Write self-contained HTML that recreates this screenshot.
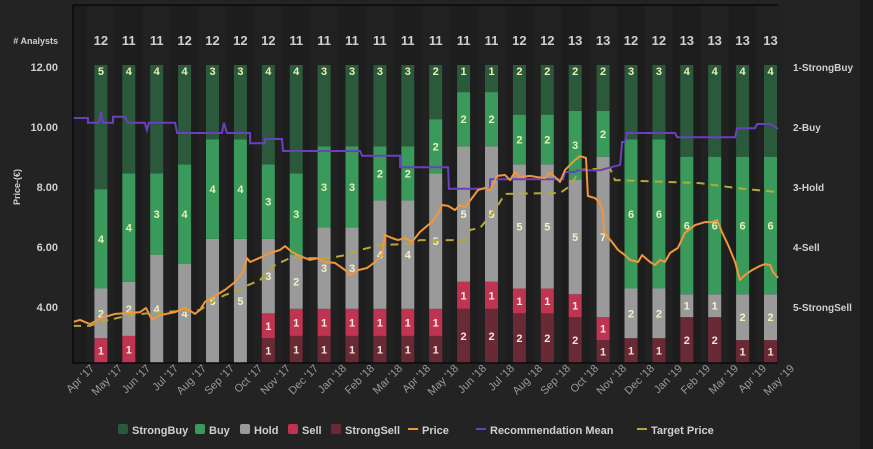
<!DOCTYPE html>
<html><head><meta charset="utf-8">
<style>
html,body{margin:0;padding:0;background:#222;}
svg{display:block;font-family:"Liberation Sans",Arial,sans-serif;}
</style></head>
<body>
<svg id="chart" width="873" height="449" viewBox="0 0 873 449">
<rect x="0" y="0" width="873" height="449" fill="#232323"/>
<rect x="860" y="0" width="13" height="449" fill="#1b1b1b"/>
<g id="bands"></g>
<g id="bars"></g>
<g id="lines"></g>
<g id="axes"></g>
<g id="legend"></g>
</svg>
<script>
const months = ["Apr '17","May '17","Jun '17","Jul '17","Aug '17","Sep '17","Oct '17","Nov '17","Dec '17","Jan '18","Feb '18","Mar '18","Apr '18","May '18","Jun '18","Jul '18","Aug '18","Sep '18","Oct '18","Nov '18","Dec '18","Jan '19","Feb '19","Mar '19","Apr '19","May '19"];
const strongBuy = [5,4,4,4,3,3,4,4,3,3,3,3,2,1,1,2,2,2,2,3,3,4,4,4,4];
const buy       = [4,4,3,4,4,4,3,3,3,3,2,2,2,2,2,2,2,3,2,6,6,6,6,6,6];
const hold      = [2,2,4,4,5,5,3,2,3,3,4,4,5,5,5,5,5,5,7,2,2,1,1,2,2];
const sell      = [1,1,0,0,0,0,1,1,1,1,1,1,1,1,1,1,1,1,1,0,0,0,0,0,0];
const strongSell= [0,0,0,0,0,0,1,1,1,1,1,1,1,2,2,2,2,2,1,1,1,2,2,1,1];
const priceTicks = [4,6,8,10,12];
const ratingLabels = ["1-StrongBuy","2-Buy","3-Hold","4-Sell","5-StrongSell"];
const priceT = [0,.25,.6,.99,1.49,2.02,2.38,2.59,2.8,3.09,3.62,3.97,4.33,4.5,4.68,5.04,5.39,5.74,6.03,6.17,6.28,6.45,6.7,6.99,7.34,7.52,7.77,8.05,8.4,8.69,8.94,9.29,9.65,9.82,10.11,10.43,10.71,10.96,11.06,11.31,11.52,11.77,12.02,12.3,12.59,12.73,12.91,13.09,13.3,13.55,13.72,13.9,14.15,14.36,14.61,14.79,15.04,15.32,15.5,15.67,15.85,16.21,16.45,16.74,16.91,17.13,17.27,17.45,17.62,17.8,17.98,18.19,18.26,18.51,18.69,18.79,18.83,18.97,19.11,19.33,19.57,19.75,20.04,20.18,20.46,20.64,20.82,20.99,21.17,21.45,21.7,22.06,22.41,22.66,22.84,23.01,23.23,23.48,23.65,23.83,24.08,24.36,24.54,24.72,24.82,25];
const priceV = [3.5,3.57,3.43,3.63,3.77,3.8,3.83,3.97,3.57,3.73,3.83,3.97,3.77,3.9,4.17,4.37,4.57,4.83,5.17,5.63,5.5,5.57,5.67,5.8,5.9,6.03,5.83,5.7,5.57,5.63,5.5,5.47,5.23,5.07,5.23,5.3,5.5,5.73,6.4,6.3,6.23,6.3,6.17,6.5,6.73,6.83,7.07,7.4,7.37,7.23,7.4,7.33,7.63,7.9,7.97,7.9,8.37,8.4,8.23,8.5,8.33,8.37,8.33,8.3,8.47,8.3,8.17,8.57,8.73,8.9,9.03,8.97,7.7,7.63,7.47,7.17,6.5,6.33,6.17,5.9,5.73,5.57,5.5,5.73,5.5,5.4,5.57,5.5,5.8,5.97,6.47,6.73,6.83,6.83,6.9,6.5,6.07,5.5,4.9,5.07,5.23,5.37,5.43,5.4,5.17,4.97];
const recT = [0,.53,.53,.92,.99,1.06,1.42,1.42,1.84,1.95,2.55,2.62,2.69,3.62,3.69,5.28,5.35,5.46,6.28,6.28,6.81,6.81,7.41,7.45,10.18,10.25,11.6,11.6,13.3,13.33,14.79,14.79,17.38,17.45,17.8,17.91,18.69,19.4,19.47,19.57,19.64,21.35,21.42,23.48,23.55,24.18,24.26,24.72,25];
const recV = [1.85,1.85,1.93,1.93,1.75,1.93,1.93,1.83,1.83,1.93,1.93,2.05,1.93,1.93,2.1,2.1,1.93,2.1,2.1,2.27,2.27,2.2,2.2,2.4,2.4,2.48,2.48,2.67,2.67,3.03,3.03,2.87,2.87,2.75,2.75,2.72,2.72,2.63,2.25,2.25,2.1,2.1,2.17,2.17,2.02,2.02,1.95,1.95,2.03];
const targetT = [0,.6,.96,2.02,3.09,4.5,5.04,5.39,5.92,6.21,6.63,7.16,7.7,9.11,9.65,10.18,10.89,11.95,12.3,13.3,13.9,14.08,14.43,14.96,15.32,17.27,17.62,17.98,19.04,19.22,22.23,23.48,25];
const targetV = [3.37,3.37,3.5,3.73,3.83,3.9,4.23,4.4,4.57,4.73,4.9,5.4,5.63,5.63,5.73,5.9,6.07,6.1,6.23,6.23,6.23,6.57,6.63,7.23,7.77,7.8,8.03,8.57,8.63,8.23,8.13,7.97,7.83];

const NS="http://www.w3.org/2000/svg";
const X0=73, X1=778, BAR_TOP=65, BAR_BOT=363, BAR_W=13;
function yPrice(v){return 67+(12-v)*30;}
function yRating(r){return 67+(r-1)*60;}
function xT(t){return X0+t*(X1-X0)/25;}
function xBar(i){return X0+(i+1)*27.9;}
function mk(tag,attrs,parent){const e=document.createElementNS(NS,tag);for(const k in attrs)e.setAttribute(k,attrs[k]);parent.appendChild(e);return e;}

const bands=document.getElementById('bands');
const plotBg=mk('rect',{x:X0,y:5,width:X1-X0,height:358,fill:'#1d1d1d'},bands);


for(let i=0;i<25;i++){
  if(i%2===0){
    const b=mk('rect',{x:xBar(i)-14,y:5,width:28,height:358,fill:'#212121'},bands);
    
    
  }
}

const bars=document.getElementById('bars');
const series=[
 {name:'strong-sell',vals:strongSell,color:'#6a2a35',tc:'#f0e6d6'},
 {name:'sell',vals:sell,color:'#bf3450',tc:'#f6ece0'},
 {name:'hold',vals:hold,color:'#9a9a9a',tc:'#f2f2c8'},
 {name:'buy',vals:buy,color:'#3a9a5c',tc:'#e6f2b4'},
 {name:'strong-buy',vals:strongBuy,color:'#2a5a3b',tc:'#e6f2b4'}];
const totalsRow=mk('g',{},bars);
for(let i=0;i<25;i++){
  let total=0;series.forEach(s=>total+=s.vals[i]);
  let cum=0;const cx=xBar(i);
  series.forEach(s=>{
    const v=s.vals[i];if(!v)return;
    const y1=BAR_BOT-(cum+v)/total*(BAR_BOT-BAR_TOP);
    const y0=BAR_BOT-cum/total*(BAR_BOT-BAR_TOP);
    const r=mk('rect',{x:cx-BAR_W/2,y:y1,width:BAR_W,height:y0-y1,fill:s.color},bars);
    
    
    const ty = s.name==='strong-buy' ? y1+10 : (y0+y1)/2+4;
    const t=mk('text',{x:cx,y:ty,'text-anchor':'middle','font-size':'11','font-weight':'bold',fill:s.tc},bars);
    t.textContent=v;
    
    
    cum+=v;
  });
  const at=mk('text',{x:cx,y:45,'text-anchor':'middle','font-size':'13','font-weight':'bold',fill:'#cfcfcf'},totalsRow);
  at.textContent=total;
  
  
}

const lines=document.getElementById('lines');
function path(T,V,yf){return T.map((t,i)=>(i?'L':'M')+xT(t).toFixed(1)+','+yf(V[i]).toFixed(1)).join(' ');}
const tp=mk('path',{d:path(targetT,targetV,yPrice),fill:'none',stroke:'#b5a83a','stroke-width':2,'stroke-dasharray':'8,6'},lines);


const rm=mk('path',{d:path(recT,recV,yRating),fill:'none',stroke:'#6a3fc0','stroke-width':2},lines);


const pl=mk('path',{d:path(priceT,priceV,yPrice),fill:'none',stroke:'#f2963a','stroke-width':2,'stroke-linejoin':'round'},lines);



const axes=document.getElementById('axes');
const frame=mk('path',{d:`M${X0},5 L${X1},5 M${X0},5 L${X0},${BAR_BOT} L${X1},${BAR_BOT}`,fill:'none',stroke:'#0a0a0a','stroke-width':1.5},axes);


priceTicks.forEach(v=>{
  const t=mk('text',{x:58,y:yPrice(v)+4,'text-anchor':'end','font-size':'11','font-weight':'bold',fill:'#cfcfcf'},axes);
  t.textContent=v.toFixed(2);
  
  
});
ratingLabels.forEach((l,i)=>{
  const t=mk('text',{x:793,y:yRating(i+1)+4,'font-size':'10','font-weight':'bold',fill:'#cfcfcf'},axes);
  t.textContent=l;
  
  
});
months.forEach((m,i)=>{
  const x=95+i*28,y=369;
  const t=mk('text',{x:x,y:y,'text-anchor':'end','font-size':'11',fill:'#9a9a9a',transform:`rotate(-45 ${x} ${y})`},axes);
  t.textContent=m;
  
  
});
const an=mk('text',{x:58,y:44,'text-anchor':'end','font-size':'9','font-weight':'bold',fill:'#cfcfcf'},axes);
an.textContent='# Analysts';


const yt=mk('text',{x:0,y:0,'text-anchor':'middle','font-size':'9','font-weight':'bold',fill:'#cfcfcf',transform:'translate(20,187) rotate(-90)'},axes);
yt.textContent='Price-(€)';



const legend=document.getElementById('legend');
const legItems=[
 {label:'StrongBuy',x:118,color:'#2a5a3b',type:'sq'},
 {label:'Buy',x:195,color:'#3a9a5c',type:'sq'},
 {label:'Hold',x:240,color:'#9a9a9a',type:'sq'},
 {label:'Sell',x:288,color:'#bf3450',type:'sq'},
 {label:'StrongSell',x:331,color:'#6a2a35',type:'sq'},
 {label:'Price',x:408,color:'#f2963a',type:'ln'},
 {label:'Recommendation Mean',x:476,color:'#6a3fc0',type:'ln'},
 {label:'Target Price',x:637,color:'#b5a83a',type:'ln'}];
legItems.forEach(it=>{
  const g=mk('g',{},legend);
  
  
  if(it.type==='sq') mk('rect',{x:it.x,y:424,width:10,height:10,rx:2,fill:it.color},g);
  else mk('rect',{x:it.x,y:428,width:10,height:2,fill:it.color},g);
  const t=mk('text',{x:it.x+14,y:434,'font-size':'11','font-weight':'bold',fill:'#cfcfcf'},g);
  t.textContent=it.label;
});
</script>
</body></html>
